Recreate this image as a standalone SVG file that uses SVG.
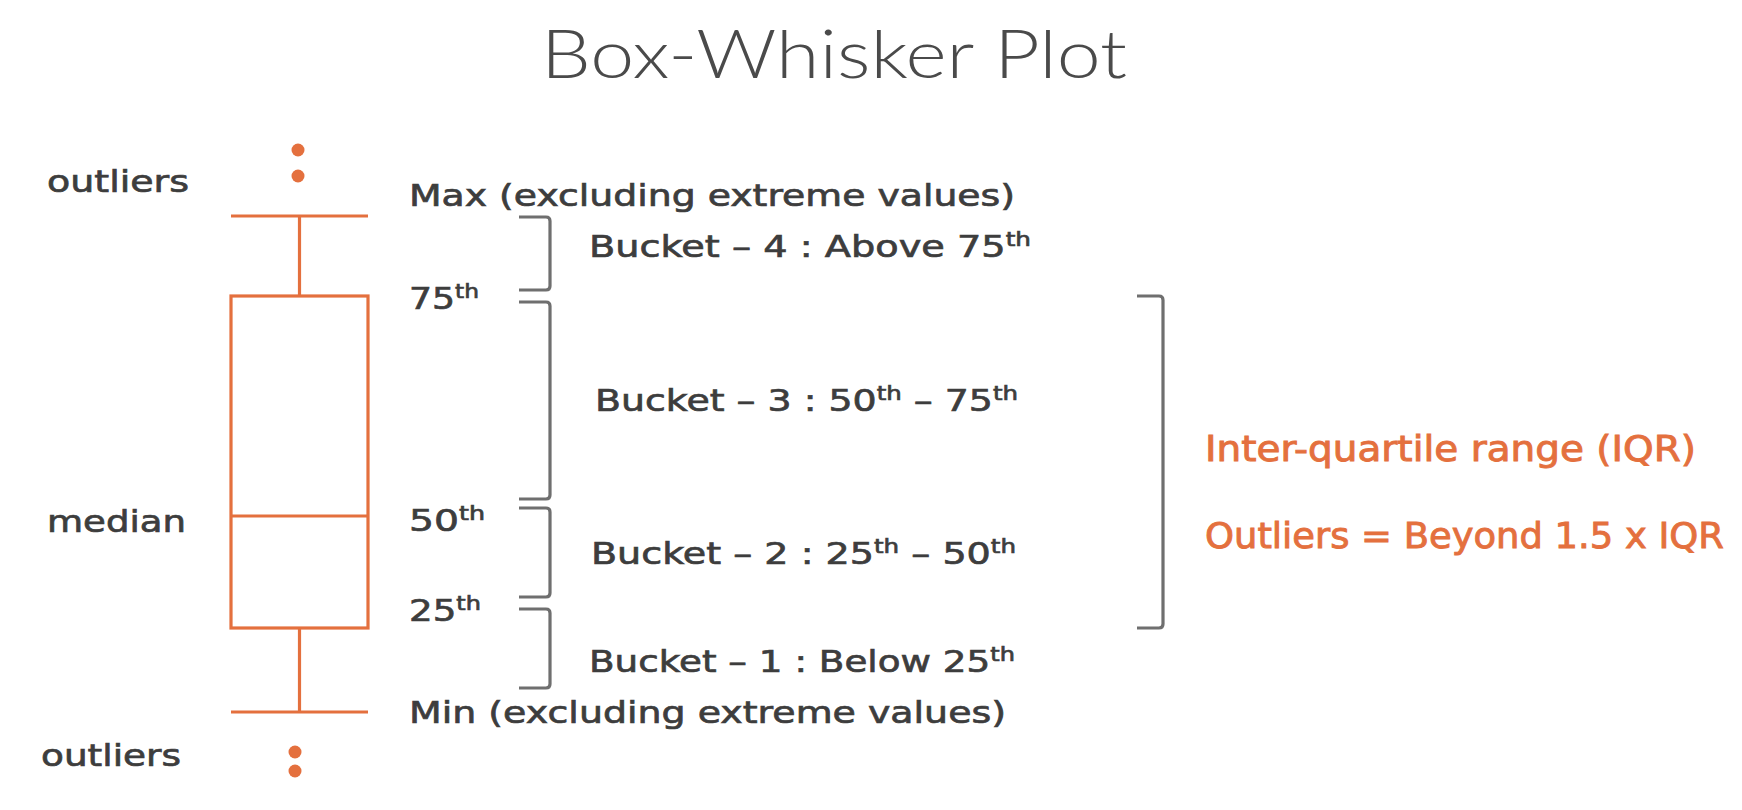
<svg xmlns="http://www.w3.org/2000/svg" width="1742" height="810" viewBox="0 0 1742 810">
<style>
.t{font-family:"DejaVu Sans","Liberation Sans",sans-serif;font-size:31px;fill:#3d3d3d;stroke:#3d3d3d;stroke-width:0.7px}
.o{font-family:"DejaVu Sans","Liberation Sans",sans-serif;font-size:35px;fill:#e4703e;stroke:#e4703e;stroke-width:0.9px}
.title{font-family:Lato,"Open Sans",sans-serif;font-weight:300;font-size:67px;fill:#4a4a4a}
.sup{font-size:20px}
.bx{fill:none;stroke:#e4703e;stroke-width:3.2}
.dot{fill:#e4703e}
.br{fill:none;stroke:#6f6f6f;stroke-width:3.2;stroke-linejoin:round}
</style>
<rect width="1742" height="810" fill="#ffffff"/>
<g id="title"><text class="title" x="541" y="78" textLength="586" lengthAdjust="spacingAndGlyphs">Box-Whisker Plot</text></g>
<g id="boxplot">
<line class="bx" x1="231" y1="216" x2="368" y2="216"/>
<line class="bx" x1="299.5" y1="216" x2="299.5" y2="296"/>
<rect class="bx" x="231" y="296" width="137" height="332"/>
<line class="bx" x1="231" y1="516" x2="368" y2="516"/>
<line class="bx" x1="299.5" y1="628" x2="299.5" y2="712"/>
<line class="bx" x1="231" y1="712" x2="368" y2="712"/>
</g>
<g id="outliers-top"><circle class="dot" cx="298" cy="150" r="6.5"/><circle class="dot" cx="298" cy="176" r="6.5"/></g>
<g id="outliers-bottom"><circle class="dot" cx="295" cy="752" r="6.5"/><circle class="dot" cx="295" cy="771" r="6.5"/></g>
<g id="left-labels">
<text class="t" x="47" y="192" textLength="142" lengthAdjust="spacingAndGlyphs">outliers</text>
<text class="t" x="47" y="532" textLength="139" lengthAdjust="spacingAndGlyphs">median</text>
<text class="t" x="41" y="766" textLength="140" lengthAdjust="spacingAndGlyphs">outliers</text>
</g>
<g id="value-labels">
<text class="t" x="409" y="206" textLength="606" lengthAdjust="spacingAndGlyphs">Max (excluding extreme values)</text>
<text class="t" x="409" y="309" textLength="70" lengthAdjust="spacingAndGlyphs">75<tspan class="sup" dy="-11">th</tspan></text>
<text class="t" x="409" y="531" textLength="76" lengthAdjust="spacingAndGlyphs">50<tspan class="sup" dy="-11">th</tspan></text>
<text class="t" x="409" y="621" textLength="72" lengthAdjust="spacingAndGlyphs">25<tspan class="sup" dy="-11">th</tspan></text>
<text class="t" x="409" y="723" textLength="597" lengthAdjust="spacingAndGlyphs">Min (excluding extreme values)</text>
</g>
<g id="connectors">
<path class="br" d="M519,217 H546 Q550,217 550,221 V286 Q550,290 546,290 H519"/>
<path class="br" d="M519,302 H546 Q550,302 550,306 V495 Q550,499 546,499 H519"/>
<path class="br" d="M519,508 H546 Q550,508 550,512 V593 Q550,597 546,597 H519"/>
<path class="br" d="M519,609 H546 Q550,609 550,613 V684 Q550,688 546,688 H519"/>
<path class="br" d="M1137,296 H1159 Q1163,296 1163,300 V624 Q1163,628 1159,628 H1137"/>
</g>
<g id="bucket-labels">
<text class="t" x="589" y="257" textLength="442" lengthAdjust="spacingAndGlyphs">Bucket – 4 : Above 75<tspan class="sup" dy="-11">th</tspan></text>
<text class="t" x="595" y="411" textLength="423" lengthAdjust="spacingAndGlyphs">Bucket – 3 : 50<tspan class="sup" dy="-11">th</tspan><tspan dy="11"> – 75</tspan><tspan class="sup" dy="-11">th</tspan></text>
<text class="t" x="591" y="564" textLength="425" lengthAdjust="spacingAndGlyphs">Bucket – 2 : 25<tspan class="sup" dy="-11">th</tspan><tspan dy="11"> – 50</tspan><tspan class="sup" dy="-11">th</tspan></text>
<text class="t" x="589" y="672" textLength="426" lengthAdjust="spacingAndGlyphs">Bucket – 1 : Below 25<tspan class="sup" dy="-11">th</tspan></text>
</g>
<g id="iqr-labels">
<text class="o" x="1205" y="461" textLength="491" lengthAdjust="spacingAndGlyphs">Inter-quartile range (IQR)</text>
<text class="o" x="1205" y="548" textLength="519" lengthAdjust="spacingAndGlyphs">Outliers = Beyond 1.5 x IQR</text>
</g>
</svg>
